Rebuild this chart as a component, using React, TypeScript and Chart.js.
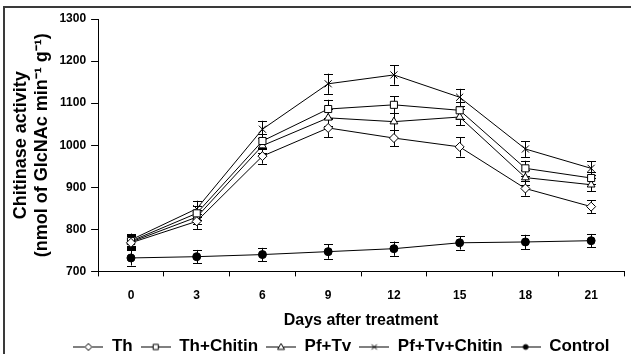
import React, { useEffect, useRef } from 'react';
import { Chart, registerables } from 'chart.js';

Chart.register(...registerables);

const days = ['0', '3', '6', '9', '12', '15', '18', '21'];
const yTicks = [700, 800, 900, 1000, 1100, 1200, 1300];

const th = [768, 819, 974, 1041, 1017, 996, 897, 854];
const thErr = [15, 18, 18, 22, 19, 23, 17, 15];

const thChitin = [772, 838, 1010, 1086, 1096, 1083, 945, 922];
const thChitinErr = [15, 17, 17, 22, 20, 20, 18, 15];

const pfTv = [770, 829, 999, 1065, 1056, 1067, 923, 906];
const pfTvErr = [15, 17, 17, 20, 20, 20, 18, 15];

const pfTvChitin = [775, 849, 1038, 1146, 1167, 1114, 991, 945];
const pfTvChitinErr = [15, 19, 20, 24, 23, 20, 19, 17];

const control = [732, 735, 740, 747, 754, 768, 770, 773];
const controlErr = [18, 16, 16, 17, 17, 16, 17, 16];

const FONT = "'Liberation Sans', Arial, sans-serif";

type Sym = 'rectRot' | 'rect' | 'triangle' | 'crossRot' | 'circle';

function drawSymbol(ctx: CanvasRenderingContext2D, sym: Sym, x: number, y: number, r: number) {
  ctx.beginPath();
  if (sym === 'rectRot') {
    ctx.moveTo(x, y - r);
    ctx.lineTo(x + r, y);
    ctx.lineTo(x, y + r);
    ctx.lineTo(x - r, y);
    ctx.closePath();
    ctx.fill();
    ctx.stroke();
  } else if (sym === 'rect') {
    const s = r * 0.75;
    ctx.rect(x - s, y - s, 2 * s, 2 * s);
    ctx.fill();
    ctx.stroke();
  } else if (sym === 'triangle') {
    ctx.moveTo(x, y - r);
    ctx.lineTo(x + r, y + r * 0.7);
    ctx.lineTo(x - r, y + r * 0.7);
    ctx.closePath();
    ctx.fill();
    ctx.stroke();
  } else if (sym === 'crossRot') {
    const s = r * 0.75;
    ctx.moveTo(x - s, y - s);
    ctx.lineTo(x + s, y + s);
    ctx.moveTo(x + s, y - s);
    ctx.lineTo(x - s, y + s);
    ctx.stroke();
  } else {
    ctx.arc(x, y, r * 0.7, 0, Math.PI * 2);
    ctx.fill();
    ctx.stroke();
  }
}

function legendSymbol(sym: Sym, fill: string): HTMLCanvasElement {
  const c = document.createElement('canvas');
  c.width = 30;
  c.height = 12;
  const ctx = c.getContext('2d')!;
  ctx.strokeStyle = '#000';
  ctx.lineWidth = 1;
  ctx.beginPath();
  ctx.moveTo(0, 6.5);
  ctx.lineTo(30, 6.5);
  ctx.stroke();
  ctx.fillStyle = fill;
  drawSymbol(ctx, sym, 15, 6.5, 3.5);
  return c;
}

const errorBars = {
  id: 'errorBars',
  beforeDatasetsDraw(chart: any) {
    const ctx = chart.ctx;
    const y = chart.scales.y;
    ctx.save();
    ctx.strokeStyle = '#000';
    ctx.lineWidth = 1;
    chart.data.datasets.forEach((ds: any, i: number) => {
      const meta = chart.getDatasetMeta(i);
      meta.data.forEach((pt: any, j: number) => {
        const v = ds.data[j];
        const e = ds.errors[j];
        const x = Math.round(pt.x) + 0.5;
        const y1 = y.getPixelForValue(v + e);
        const y2 = y.getPixelForValue(v - e);
        ctx.beginPath();
        ctx.moveTo(x, y1);
        ctx.lineTo(x, y2);
        ctx.moveTo(x - 4.5, Math.round(y1) + 0.5);
        ctx.lineTo(x + 4.5, Math.round(y1) + 0.5);
        ctx.moveTo(x - 4.5, Math.round(y2) + 0.5);
        ctx.lineTo(x + 4.5, Math.round(y2) + 0.5);
        ctx.stroke();
      });
    });
    ctx.restore();
  },
};

const legendShift = {
  id: 'legendShift',
  afterLayout(chart: any) {
    const lg = chart.legend;
    if (lg) {
      lg.left += 48;
    }
  },
};

export default function App() {
  const ref = useRef<HTMLCanvasElement | null>(null);

  useEffect(() => {
    if (!ref.current) return;
    const mk = (label: string, data: number[], errors: number[], sym: Sym, fill: string, r: number) => ({
      label,
      data,
      errors,
      borderColor: '#000',
      borderWidth: 1,
      pointStyle: sym,
      pointRadius: r,
      pointBorderWidth: 1,
      pointBorderColor: '#000',
      pointBackgroundColor: fill,
      fill: false,
      tension: 0,
      legendSym: legendSymbol(sym, fill),
    });
    const datasets = [
      mk('Th', th, thErr, 'rectRot', '#fff', 4.5),
      mk('Th+Chitin', thChitin, thChitinErr, 'rect', '#fff', 5),
      mk('Pf+Tv', pfTv, pfTvErr, 'triangle', '#fff', 4.5),
      mk('Pf+Tv+Chitin', pfTvChitin, pfTvChitinErr, 'crossRot', '#fff', 5),
      mk('Control', control, controlErr, 'circle', '#000', 4),
    ];
    const chart = new Chart(ref.current, {
      type: 'line',
      data: { labels: days, datasets: datasets as any },
      plugins: [errorBars, legendShift],
      options: {
        animation: false,
        responsive: false,
        layout: { padding: { left: 11, right: 7, top: 19, bottom: -11 } },
        scales: {
          x: {
            offset: true,
            grid: { offset: true, drawOnChartArea: false, color: '#000', tickLength: 5 },
            border: { color: '#000', width: 1 },
            ticks: { color: '#000', padding: 12, font: { family: FONT, size: 12, weight: 'bold' } },
            title: {
              display: true,
              text: 'Days after treatment',
              color: '#000',
              padding: { top: -4, bottom: 0 },
              font: { family: FONT, size: 16, weight: 'bold' },
            },
          },
          y: {
            min: yTicks[0],
            max: yTicks[yTicks.length - 1],
            afterBuildTicks: (scale: any) => {
              scale.ticks = yTicks.map((v) => ({ value: v }));
            },
            grid: { drawOnChartArea: false, color: '#000', tickLength: 7 },
            border: { color: '#000', width: 1 },
            ticks: {
              color: '#000',
              padding: 5,
              font: { family: FONT, size: 12, weight: 'bold' },
              callback: (v: any) => String(v),
            },
            title: {
              display: true,
              text: ['Chitinase activity', '(nmol of GlcNAc min\u207B\u00B9 g\u207B\u00B9)'],
              color: '#000',
              padding: { top: 0, bottom: 2 },
              font: { family: FONT, size: 18, weight: 'bold', lineHeight: 1.15 },
            },
          },
        },
        plugins: {
          legend: {
            position: 'bottom',
            labels: {
              usePointStyle: true,
              pointStyleWidth: 30,
              boxHeight: 10,
              padding: 8,
              color: '#000',
              font: { family: FONT, size: 17, weight: 'bold' },
              generateLabels: (c: any) => {
                const base = Chart.defaults.plugins.legend.labels.generateLabels(c);
                return base.map((item: any, i: number) => ({
                  ...item,
                  pointStyle: c.data.datasets[i].legendSym,
                }));
              },
            },
          },
          tooltip: { enabled: false },
        },
      } as any,
    });
    return () => chart.destroy();
  }, []);

  return (
    <div style={{ position: 'absolute', left: 0, top: 0, width: 631, height: 354, overflow: 'hidden', background: '#fff' }}>
      <canvas ref={ref} width={631} height={354} style={{ display: 'block' }} />
      <div
        style={{
          position: 'absolute',
          left: 3,
          top: 6,
          width: 700,
          height: 400,
          borderTop: '2px solid #3a3a3a',
          borderLeft: '2px solid #3a3a3a',
          pointerEvents: 'none',
        }}
      />
    </div>
  );
}
